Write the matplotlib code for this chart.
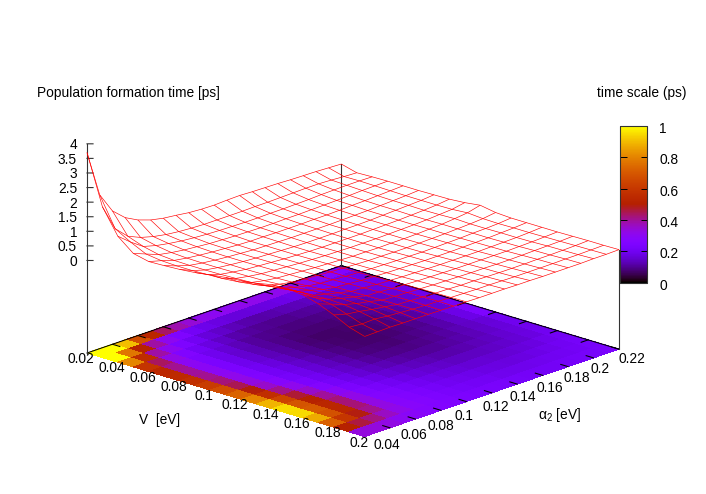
import numpy as np
import matplotlib
matplotlib.use('Agg')
import matplotlib.pyplot as plt
from matplotlib.colors import ListedColormap, Normalize
from matplotlib.cm import ScalarMappable
from matplotlib.transforms import ScaledTranslation
from mpl_toolkits.mplot3d import proj3d

plt.rcParams['font.family'] = ['Liberation Sans', 'DejaVu Sans']
plt.rcParams['mathtext.fontset'] = 'custom'
plt.rcParams['mathtext.rm'] = 'Liberation Sans'
plt.rcParams['mathtext.it'] = 'Liberation Sans:italic'

V_vals = [0.02, 0.03, 0.04, 0.05, 0.06, 0.07, 0.08, 0.09, 0.10, 0.11, 0.12, 0.13, 0.14, 0.15, 0.16, 0.17, 0.18, 0.19, 0.20]
alpha_vals = [0.02, 0.03, 0.04, 0.05, 0.06, 0.07, 0.08, 0.09, 0.10, 0.11, 0.12, 0.13, 0.14, 0.15, 0.16, 0.17, 0.18, 0.19, 0.20, 0.21, 0.22]

# formation time [ps]: one list per alpha_2 value, running along V
t_a02 = [3.7, 2.0, 1.15, .72, .6, .62, .65, .7, .78, .85, .9, .97, 1.08, 1.1, 1.05, .9, .68, .42, .26]
t_a03 = [2.1, 1.1, .8, .55, .48, .46, .46, .48, .5, .55, .62, .72, .78, .84, .8, .74, .56, .38, .27]
t_a04 = [1.4, .69, .5, .38, .34, .33, .33, .34, .36, .38, .42, .5, .55, .58, .6, .58, .5, .4, .28]
t_a05 = [1.02, .5, .38, .3, .27, .26, .26, .27, .28, .29, .33, .38, .44, .47, .48, .46, .42, .35, .27]
t_a06 = [.79, .38, .3, .24, .22, .21, .21, .21, .22, .23, .25, .28, .32, .36, .38, .38, .36, .32, .27]
t_a07 = [.64, .3, .24, .2, .18, .17, .17, .18, .19, .2, .21, .22, .24, .26, .27, .28, .29, .29, .27]
t_a08 = [.55, .25, .2, .16, .15, .14, .14, .15, .16, .17, .18, .19, .21, .23, .25, .26, .27, .27, .26]
t_a09 = [.5, .22, .17, .14, .12, .11, .12, .12, .13, .14, .15, .16, .18, .2, .22, .24, .25, .26, .25]
t_a10 = [.44, .2, .15, .12, .1, .1, .1, .1, .11, .12, .13, .14, .16, .18, .2, .22, .23, .24, .25]
t_a11 = [.41, .2, .14, .11, .1, .09, .08, .08, .09, .1, .11, .12, .14, .16, .18, .2, .22, .23, .24]
t_a12 = [.4, .2, .13, .1, .09, .08, .07, .07, .08, .08, .09, .11, .13, .15, .17, .19, .2, .22, .24]
t_a13 = [.42, .2, .13, .1, .09, .08, .07, .07, .07, .08, .09, .1, .12, .14, .16, .18, .2, .22, .24]
t_a14 = [.43, .21, .14, .11, .09, .08, .07, .07, .07, .07, .08, .1, .11, .13, .15, .17, .19, .21, .23]
t_a15 = [.41, .21, .14, .11, .1, .08, .08, .07, .07, .08, .08, .09, .11, .13, .15, .17, .18, .2, .23]
t_a16 = [.4, .22, .15, .12, .1, .09, .08, .08, .08, .08, .09, .1, .11, .13, .15, .16, .18, .2, .22]
t_a17 = [.39, .23, .16, .13, .11, .1, .09, .09, .09, .09, .1, .11, .12, .13, .15, .16, .18, .2, .22]
t_a18 = [.37, .24, .18, .14, .13, .11, .11, .1, .1, .11, .11, .12, .13, .14, .15, .17, .19, .2, .22]
t_a19 = [.36, .24, .19, .16, .14, .13, .13, .12, .12, .13, .13, .14, .14, .15, .16, .18, .19, .21, .22]
t_a20 = [.35, .22, .2, .18, .16, .15, .15, .14, .15, .17, .15, .15, .16, .16, .17, .19, .2, .21, .23]
t_a21 = [.33, .19, .2, .19, .18, .17, .17, .17, .18, .22, .18, .17, .18, .18, .19, .2, .21, .22, .23]
t_a22 = [.31, .17, .19, .2, .2, .2, .21, .22, .26, .33, .24, .21, .21, .21, .21, .22, .23, .23, .24]

V_ticks = ['0.02', '0.04', '0.06', '0.08', '0.1', '0.12', '0.14', '0.16', '0.18', '0.2']
alpha_ticks = ['0.04', '0.06', '0.08', '0.1', '0.12', '0.14', '0.16', '0.18', '0.2', '0.22']
z_ticks = [0, 0.5, 1, 1.5, 2, 2.5, 3, 3.5, 4]
cb_ticks = [0, 0.2, 0.4, 0.6, 0.8, 1]

W, H = 706, 494
FS = 9.9
Z_BASE = -3.172
Z_TOP = 4.0

V = np.array(V_vals)
A = np.array(alpha_vals)
T = np.array([t_a02, t_a03, t_a04, t_a05, t_a06, t_a07, t_a08, t_a09, t_a10, t_a11, t_a12,
              t_a13, t_a14, t_a15, t_a16, t_a17, t_a18, t_a19, t_a20, t_a21, t_a22])
VV, AA = np.meshgrid(V, A)

# gnuplot palette rgbformulae 7,5,15
x = np.linspace(0, 1, 256)
pal = ListedColormap(np.c_[np.sqrt(x), x ** 3, np.clip(np.sin(2 * np.pi * x), 0, 1)])
norm = Normalize(0, 1)

fig = plt.figure(figsize=(W / 100, H / 100), dpi=100, facecolor='white')
ax = fig.add_axes([0, 0, 1, 1], projection='3d', proj_type='ortho')
ax.computed_zorder = False
ax.set_axis_off()
ax.patch.set_alpha(0)

cell = (T[:-1, :-1] + T[1:, :-1] + T[:-1, 1:] + T[1:, 1:]) / 4
ax.plot_surface(VV, AA, np.full_like(T, Z_BASE), facecolors=pal(norm(np.clip(cell, 0, 1))),
                rstride=1, cstride=1, shade=False, linewidth=0, antialiased=False, zorder=1)

vmin, vmax, amin, amax = V[0], V[-1], A[0], A[-1]
blk = dict(color='black', linewidth=0.75, zorder=2)
ax.plot([vmin, vmin], [amin, amax], [Z_BASE, Z_BASE], **blk)
ax.plot([vmin, vmax], [amax, amax], [Z_BASE, Z_BASE], **blk)
tick_v = 0.0048
tick_a = 0.0055
for a in [float(s) for s in alpha_ticks]:
    ax.plot([vmin, vmin + tick_v], [a, a], [Z_BASE, Z_BASE], **blk)
    ax.plot([vmax, vmax - tick_v], [a, a], [Z_BASE, Z_BASE], **blk)
for v in [float(s) for s in V_ticks[1:-1]]:
    ax.plot([v, v], [amax, amax - tick_a], [Z_BASE, Z_BASE], **blk)

gry = dict(color='#333333', linewidth=0.8, zorder=2)
ax.plot([vmin, vmin], [amin, amin], [Z_BASE, Z_TOP], **gry)
ax.plot([vmin, vmin], [amax, amax], [Z_BASE, T[-1, 0]], **gry)
ax.plot([vmax, vmax], [amax, amax], [Z_BASE, T[-1, -1]], **gry)
for z in z_ticks:
    # horizontal on screen: a step along V plus a step along alpha_2
    ax.plot([vmin, vmin + 0.0021], [amin, amin + 0.0022], [z, z], **gry)

ax.plot_wireframe(VV, AA, T, rstride=1, cstride=1, color='#ff0000', linewidth=0.45, zorder=3)

ax.view_init(elev=18.76, azim=-46.9)
ax.set_box_aspect((378, 370, (Z_TOP - Z_BASE) * 30.62))
ax.set_xlim(vmin, vmax)
ax.set_ylim(amin, amax)
ax.set_zlim(Z_BASE, Z_TOP)


def proj2d(v, a, z):
    px, py, _ = proj3d.proj_transform(v, a, z, ax.get_proj())
    return px, py


# fit the square 3D axes box so the floor corners land where they should
ax.apply_aspect()
to_frac = lambda p: ax.transAxes.inverted().transform(ax.transData.transform(p))
uL, vL = to_frac(proj2d(vmin, amin, Z_BASE))
uR, vR = to_frac(proj2d(vmax, amax, Z_BASE))
S = (619 - 87) / (uR - uL)
x0 = 87 - uL * S
y0 = (H - 353) - vL * S
ax.set_position([x0 / W, y0 / H, S / W, S / H])
ax.apply_aspect()


def label(txt, v, a, z, dx, dy, ha='center', va='center'):
    ax.annotate(txt, xy=proj2d(v, a, z), xycoords='data', xytext=(dx, dy), textcoords='offset pixels',
                ha=ha, va=va, fontsize=FS, color='black', annotation_clip=False)


for s in V_ticks:
    label(s, float(s), amin, Z_BASE, -6, -6)
for k, s in enumerate(alpha_ticks):
    label(s, vmax, float(s), Z_BASE, -17 + 1.8 * k, -(17 - 0.75 * k), ha='left')
for z in z_ticks:
    label(f'{z:g}', vmin, amin, z, -10, -1.5, ha='right')


def ptext(px, py, s, **kw):
    fig.text(px / W, 1 - (py + 1.5) / H, s, fontsize=FS, color='black', va='center', **kw)


ptext(37, 92, 'Population formation time [ps]', ha='left')
ptext(597, 92, 'time scale (ps)', ha='left')
ptext(160, 418, 'V  [eV]', ha='center')
ptext(560, 413, 'α$_2$ [eV]', ha='center')

cax = fig.add_axes([620 / W, 1 - 282.5 / H, 27 / W, 156.5 / H])
cb = fig.colorbar(ScalarMappable(norm=norm, cmap=pal), cax=cax, ticks=cb_ticks)
cb.ax.set_yticklabels([f'{t:g}' for t in cb_ticks], fontsize=FS)
cb.ax.tick_params(axis='y', direction='in', left=True, right=True, length=6.5 * 0.72, width=0.7,
                  color='black', pad=9, labelcolor='black')
shift = ScaledTranslation(0, -1.5 / 100, fig.dpi_scale_trans)
for t in cb.ax.get_yticklabels():
    t.set_transform(t.get_transform() + shift)
cb.outline.set_edgecolor('#333333')
cb.outline.set_linewidth(0.8)

fig.savefig('out.png', dpi=100, facecolor='white')
